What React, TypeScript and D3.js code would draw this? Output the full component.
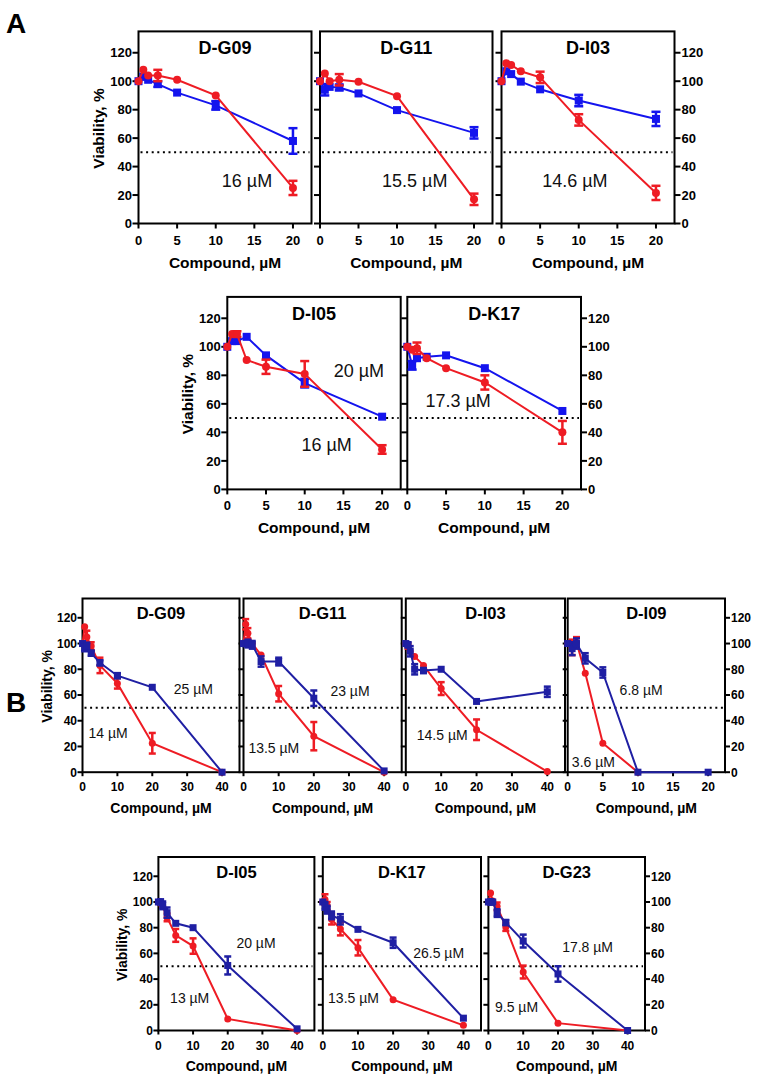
import React from 'react';
import * as d3 from 'd3';

// ---------- colours ----------
const RED = '#ee1c24';
const BLUE_A = '#1414ee';
const BLUE_B = '#1f1fa3';

// ---------- shared ticks ----------
const Y_TICKS = [0, 20, 40, 60, 80, 100, 120];
const X_TICKS_20 = [0, 5, 10, 15, 20];
const X_TICKS_40 = [0, 10, 20, 30, 40];

// ---------- panel A data ----------
const A_X = [0, 0.625, 1.25, 2.5, 5, 10, 20];

const A_G09_RED = [100, 108, 104, 104, 101, 90, 25];
const A_G09_RED_ERR = [0, 0, 0, 4, 0, 0, 5];
const A_G09_BLUE = [100, 103, 101, 98, 92, 83, 58];
const A_G09_BLUE_ERR = [0, 0, 0, 2, 0, 3, 9];

const A_G11_RED = [100, 105.5, 100, 101, 99.6, 89.5, 17];
const A_G11_RED_ERR = [0, 0, 0, 4, 0, 0, 4];
const A_G11_BLUE = [100, 94, 96, 95.6, 91.4, 79.7, 63.7];
const A_G11_BLUE_ERR = [0, 4, 0, 2, 0, 0, 4];

const A_I03_RED = [100, 112.6, 111.4, 107, 102.7, 72.8, 21.5];
const A_I03_RED_ERR = [0, 0, 0, 0, 4, 4, 5];
const A_I03_BLUE = [100, 107, 105, 99.7, 94.3, 86.4, 73.5];
const A_I03_BLUE_ERR = [0, 0, 0, 0, 0, 4, 5];

const A_I05_RED = [100, 108.9, 108.9, 90.7, 86, 81, 28];
const A_I05_RED_ERR = [0, 0, 2, 0, 5, 9, 3];
const A_I05_BLUE = [100, 104, 104, 107, 94, 74.5, 51];
const A_I05_BLUE_ERR = [0, 0, 0, 0, 0, 3, 0];

const A_K17_RED = [100, 98, 99, 92, 85, 75, 40];
const A_K17_RED_ERR = [0, 0, 4, 0, 0, 5, 8];
const A_K17_BLUE = [100, 87, 92, 93, 94, 85, 55];
const A_K17_BLUE_ERR = [0, 3, 0, 0, 0, 0, 0];

// ---------- panel B data ----------
const B_X = [0, 0.625, 1.25, 2.5, 5, 10, 20, 40];

const B_G09_RED = [100, 113, 105, 98, 83, 69, 22.5, 0];
const B_G09_RED_ERR = [0, 0, 5, 3, 6, 4, 8, 0];
const B_G09_BLUE = [100, 97, 97.7, 92.5, 85, 75, 66, 0];
const B_G09_BLUE_ERR = [0, 3, 3, 2, 2, 2, 0, 0];

const B_G11_RED = [100, 115, 108, 100, 91, 61, 28, 0];
const B_G11_RED_ERR = [0, 4, 4, 0, 0, 6, 11, 0];
const B_G11_BLUE = [100, 100, 100, 99, 86, 86, 57.5, 1];
const B_G11_BLUE_ERR = [0, 2, 3, 3, 4, 3, 6, 0];

const B_I03_RED = [100, 98, 94, 90, 83, 65, 33, 0.5];
const B_I03_RED_ERR = [0, 2, 0, 0, 0, 5, 8, 0];
const B_I03_BLUE = [100, 99, 94, 80, 79, 80, 55, 62.5];
const B_I03_BLUE_ERR = [0, 2, 4, 4, 2, 0, 0, 4];

const B_I09_RED_X = [0, 0.625, 1.25, 2.5, 5, 10];
const B_I09_RED = [100, 97, 101, 77, 22.5, 0];
const B_I09_RED_ERR = [0, 6, 4, 0, 0, 0];
const B_I09_BLUE_X = [0, 0.625, 1.25, 2.5, 5, 10, 20];
const B_I09_BLUE = [100, 96, 100, 88.5, 77.5, 0, 0];
const B_I09_BLUE_ERR = [0, 5, 4, 4, 4, 0, 0];

const B_I05_RED = [100, 99, 96.4, 88, 74, 65.7, 9, 0];
const B_I05_RED_ERR = [0, 0, 0, 3, 5, 6, 0, 0];
const B_I05_BLUE = [100, 100, 97.4, 91.7, 83.4, 80, 50.6, 1.3];
const B_I05_BLUE_ERR = [0, 2, 3, 4, 0, 0, 7, 0];

const B_K17_RED = [100, 102, 97, 86.5, 79, 64.4, 24, 4];
const B_K17_RED_ERR = [0, 4, 3, 4, 5, 6, 0, 0];
const B_K17_BLUE = [100, 97, 94, 89.6, 86.5, 78.7, 68.3, 9.6];
const B_K17_BLUE_ERR = [0, 3, 3, 3, 4, 0, 4, 0];

const B_G23_RED = [100, 107, 100.8, 96.6, 80.5, 45.5, 5.7, 0];
const B_G23_RED_ERR = [0, 0, 0, 3, 3, 5, 0, 0];
const B_G23_BLUE = [100, 100, 100, 91.4, 84, 69.6, 44, 0];
const B_G23_BLUE_ERR = [0, 2, 0, 3, 2, 5, 6, 0];

// ---------- types ----------
type Series = { x: number[]; y: number[]; err: number[]; color: string; shape: 'circle' | 'square' };
type Anno = { text: string; x: number; y: number };
type PanelCfg = {
  title: string; left: number; width: number; xMax: number; xTicks: number[];
  series: Series[]; annos: Anno[]; yAxis: 'left' | 'right' | 'none';
};
type Style = {
  tickFont: number; titleFont: number; axisFont: number; annoFont: number;
  ms: number; cap: number; titleDy: number; xTickDy: number; xLabelDy: number;
  yLabelDx: number; tickLen: number;
};
type RowCfg = { top: number; bottom: number; style: Style; panels: PanelCfg[] };

const FONT = 'Arial, "Liberation Sans", Helvetica, sans-serif';

const STYLE_A: Style = {
  tickFont: 13, titleFont: 18, axisFont: 15.5, annoFont: 18, ms: 8, cap: 9,
  titleDy: 23, xTickDy: 21, xLabelDy: 44, yLabelDx: 34.6, tickLen: 6,
};
const STYLE_B: Style = {
  tickFont: 12, titleFont: 16.5, axisFont: 14, annoFont: 14, ms: 7, cap: 7,
  titleDy: 20.5, xTickDy: 19, xLabelDy: 40.3, yLabelDx: 31, tickLen: 5,
};

const s = (x: number[], y: number[], err: number[], color: string, shape: 'circle' | 'square'): Series =>
  ({ x, y, err, color, shape });

const ROWS: RowCfg[] = [
  {
    top: 31.4, bottom: 223.5, style: STYLE_A,
    panels: [
      { title: 'D-G09', left: 138.5, width: 173, xMax: 22.4, xTicks: X_TICKS_20, yAxis: 'left',
        series: [s(A_X, A_G09_BLUE, A_G09_BLUE_ERR, BLUE_A, 'square'), s(A_X, A_G09_RED, A_G09_RED_ERR, RED, 'circle')],
        annos: [{ text: '16 µM', x: 14.05, y: 25.9 }] },
      { title: 'D-G11', left: 320, width: 172.5, xMax: 22.4, xTicks: X_TICKS_20, yAxis: 'none',
        series: [s(A_X, A_G11_BLUE, A_G11_BLUE_ERR, BLUE_A, 'square'), s(A_X, A_G11_RED, A_G11_RED_ERR, RED, 'circle')],
        annos: [{ text: '15.5 µM', x: 12.3, y: 25.9 }] },
      { title: 'D-I03', left: 501.5, width: 173, xMax: 22.4, xTicks: X_TICKS_20, yAxis: 'right',
        series: [s(A_X, A_I03_BLUE, A_I03_BLUE_ERR, BLUE_A, 'square'), s(A_X, A_I03_RED, A_I03_RED_ERR, RED, 'circle')],
        annos: [{ text: '14.6 µM', x: 9.5, y: 25.4 }] },
    ],
  },
  {
    top: 296.9, bottom: 489.4, style: STYLE_A,
    panels: [
      { title: 'D-I05', left: 227.3, width: 173.4, xMax: 22.4, xTicks: X_TICKS_20, yAxis: 'left',
        series: [s(A_X, A_I05_BLUE, A_I05_BLUE_ERR, BLUE_A, 'square'), s(A_X, A_I05_RED, A_I05_RED_ERR, RED, 'circle')],
        annos: [{ text: '20 µM', x: 17.0, y: 78.5 }, { text: '16 µM', x: 12.83, y: 26.9 }] },
      { title: 'D-K17', left: 407.3, width: 173.7, xMax: 22.4, xTicks: X_TICKS_20, yAxis: 'right',
        series: [s(A_X, A_K17_BLUE, A_K17_BLUE_ERR, BLUE_A, 'square'), s(A_X, A_K17_RED, A_K17_RED_ERR, RED, 'circle')],
        annos: [{ text: '17.3 µM', x: 6.55, y: 57.5 }] },
    ],
  },
  {
    top: 598.5, bottom: 772.2, style: STYLE_B,
    panels: [
      { title: 'D-G09', left: 82.5, width: 157, xMax: 45, xTicks: X_TICKS_40, yAxis: 'left',
        series: [s(B_X, B_G09_RED, B_G09_RED_ERR, RED, 'circle'), s(B_X, B_G09_BLUE, B_G09_BLUE_ERR, BLUE_B, 'square')],
        annos: [{ text: '25 µM', x: 31.76, y: 60.4 }, { text: '14 µM', x: 7.35, y: 26.2 }] },
      { title: 'D-G11', left: 243.5, width: 158.2, xMax: 45, xTicks: X_TICKS_40, yAxis: 'none',
        series: [s(B_X, B_G11_RED, B_G11_RED_ERR, RED, 'circle'), s(B_X, B_G11_BLUE, B_G11_BLUE_ERR, BLUE_B, 'square')],
        annos: [{ text: '23 µM', x: 30.3, y: 59.2 }, { text: '13.5 µM', x: 8.63, y: 15.3 }] },
      { title: 'D-I03', left: 405.8, width: 159.2, xMax: 45, xTicks: X_TICKS_40, yAxis: 'none',
        series: [s(B_X, B_I03_RED, B_I03_RED_ERR, RED, 'circle'), s(B_X, B_I03_BLUE, B_I03_BLUE_ERR, BLUE_B, 'square')],
        annos: [{ text: '14.5 µM', x: 10.3, y: 25.0 }] },
      { title: 'D-I09', left: 567.7, width: 157.3, xMax: 22.4, xTicks: X_TICKS_20, yAxis: 'right',
        series: [s(B_I09_RED_X, B_I09_RED, B_I09_RED_ERR, RED, 'circle'), s(B_I09_BLUE_X, B_I09_BLUE, B_I09_BLUE_ERR, BLUE_B, 'square')],
        annos: [{ text: '6.8 µM', x: 10.46, y: 60.0 }, { text: '3.6 µM', x: 3.66, y: 4.3 }] },
    ],
  },
  {
    top: 857, bottom: 1030.5, style: STYLE_B,
    panels: [
      { title: 'D-I05', left: 158.4, width: 156, xMax: 45, xTicks: X_TICKS_40, yAxis: 'left',
        series: [s(B_X, B_I05_RED, B_I05_RED_ERR, RED, 'circle'), s(B_X, B_I05_BLUE, B_I05_BLUE_ERR, BLUE_B, 'square')],
        annos: [{ text: '20 µM', x: 28.15, y: 64.0 }, { text: '13 µM', x: 9.03, y: 21.6 }] },
      { title: 'D-K17', left: 322.8, width: 158.2, xMax: 45, xTicks: X_TICKS_40, yAxis: 'none',
        series: [s(B_X, B_K17_RED, B_K17_RED_ERR, RED, 'circle'), s(B_X, B_K17_BLUE, B_K17_BLUE_ERR, BLUE_B, 'square')],
        annos: [{ text: '26.5 µM', x: 32.96, y: 56.7 }, { text: '13.5 µM', x: 8.74, y: 21.6 }] },
      { title: 'D-G23', left: 488.4, width: 156.6, xMax: 45, xTicks: X_TICKS_40, yAxis: 'right',
        series: [s(B_X, B_G23_RED, B_G23_RED_ERR, RED, 'circle'), s(B_X, B_G23_BLUE, B_G23_BLUE_ERR, BLUE_B, 'square')],
        annos: [{ text: '17.8 µM', x: 28.5, y: 61.3 }, { text: '9.5 µM', x: 8.08, y: 14.6 }] },
    ],
  },
];

function Panel({ p, top, bottom, st }: { p: PanelCfg; top: number; bottom: number; st: Style }) {
  const x = d3.scaleLinear().domain([0, p.xMax]).range([p.left, p.left + p.width]);
  const y = d3.scaleLinear().domain([0, 135]).range([bottom, top]);
  const right = p.left + p.width;
  const cx = p.left + p.width / 2;
  const line = d3.line<[number, number]>().x(d => x(d[0])).y(d => y(d[1]));
  return (
    <g>
      <rect x={p.left} y={top} width={p.width} height={bottom - top} fill="none" stroke="#000" strokeWidth={2} />
      {/* left ticks */}
      {Y_TICKS.map(t => (
        <line key={'lt' + t} x1={p.left - st.tickLen} x2={p.left} y1={y(t)} y2={y(t)} stroke="#000" strokeWidth={2} />
      ))}
      {p.yAxis === 'left' && Y_TICKS.map(t => (
        <text key={'ll' + t} x={p.left - st.tickLen - 0.5} y={y(t)} dy="0.36em" textAnchor="end"
          fontSize={st.tickFont} fontWeight="bold" fontFamily={FONT}>{t}</text>
      ))}
      {p.yAxis === 'left' && (
        <text transform={`translate(${p.left - st.yLabelDx},${(top + bottom) / 2 + 1}) rotate(-90)`} textAnchor="middle"
          fontSize={st.axisFont} fontWeight="bold" fontFamily={FONT}>Viability, %</text>
      )}
      {p.yAxis === 'right' && Y_TICKS.map(t => (
        <g key={'r' + t}>
          <line x1={right} x2={right + st.tickLen} y1={y(t)} y2={y(t)} stroke="#000" strokeWidth={2} />
          <text x={right + st.tickLen + 1} y={y(t)} dy="0.36em" textAnchor="start"
            fontSize={st.tickFont} fontWeight="bold" fontFamily={FONT}>{t}</text>
        </g>
      ))}
      {/* x ticks */}
      {p.xTicks.map(t => (
        <g key={'x' + t}>
          <line x1={x(t)} x2={x(t)} y1={bottom} y2={bottom + st.tickLen - 1} stroke="#000" strokeWidth={2} />
          <text x={x(t)} y={bottom + st.xTickDy} textAnchor="middle" fontSize={st.tickFont} fontWeight="bold" fontFamily={FONT}>{t}</text>
        </g>
      ))}
      <text x={cx} y={bottom + st.xLabelDy} textAnchor="middle" fontSize={st.axisFont} fontWeight="bold" fontFamily={FONT}>Compound, µM</text>
      <text x={cx} y={top + st.titleDy} textAnchor="middle" fontSize={st.titleFont} fontWeight="bold" fontFamily={FONT}>{p.title}</text>
      {/* 50% dotted line */}
      <line x1={p.left + 2} x2={right - 2} y1={y(50)} y2={y(50)} stroke="#000" strokeWidth={2} strokeDasharray="2,3.6" />
      {p.annos.map((a, i) => (
        <text key={'a' + i} x={x(a.x)} y={y(a.y)} textAnchor="middle" fontSize={st.annoFont} fontFamily={FONT} fill="#111">{a.text}</text>
      ))}
      {p.series.map((se, si) => {
        const pts: [number, number][] = se.x.map((v, i) => [v, se.y[i]]);
        return (
          <g key={'s' + si}>
            <path d={line(pts) || ''} fill="none" stroke={se.color} strokeWidth={2} />
            {pts.map(([vx, vy], i) => se.err[i] > 0 ? (
              <g key={'e' + i} stroke={se.color} strokeWidth={2.5}>
                <line x1={x(vx)} x2={x(vx)} y1={y(vy - se.err[i])} y2={y(vy + se.err[i])} />
                <line x1={x(vx) - st.cap / 2} x2={x(vx) + st.cap / 2} y1={y(vy - se.err[i])} y2={y(vy - se.err[i])} />
                <line x1={x(vx) - st.cap / 2} x2={x(vx) + st.cap / 2} y1={y(vy + se.err[i])} y2={y(vy + se.err[i])} />
              </g>
            ) : null)}
            {pts.map(([vx, vy], i) => se.shape === 'circle' ? (
              <circle key={'m' + i} cx={x(vx)} cy={y(vy)} r={st.ms / 2} fill={se.color} />
            ) : (
              <rect key={'m' + i} x={x(vx) - st.ms / 2} y={y(vy) - st.ms / 2} width={st.ms} height={st.ms} fill={se.color} />
            ))}
          </g>
        );
      })}
    </g>
  );
}

export default function App() {
  return (
    <svg width={761} height={1081} viewBox="0 0 761 1081"
      style={{ position: 'absolute', left: 0, top: 0, background: '#fff' }}>
      <rect x={0} y={0} width={761} height={1081} fill="#fff" />
      <text x={6} y={33} fontSize={28} fontWeight="bold" fontFamily={FONT}>A</text>
      <text x={6} y={712} fontSize={28} fontWeight="bold" fontFamily={FONT}>B</text>
      {ROWS.map((r, ri) => (
        <g key={ri}>
          {r.panels.map((p, pi) => (
            <Panel key={pi} p={p} top={r.top} bottom={r.bottom} st={r.style} />
          ))}
        </g>
      ))}
    </svg>
  );
}
